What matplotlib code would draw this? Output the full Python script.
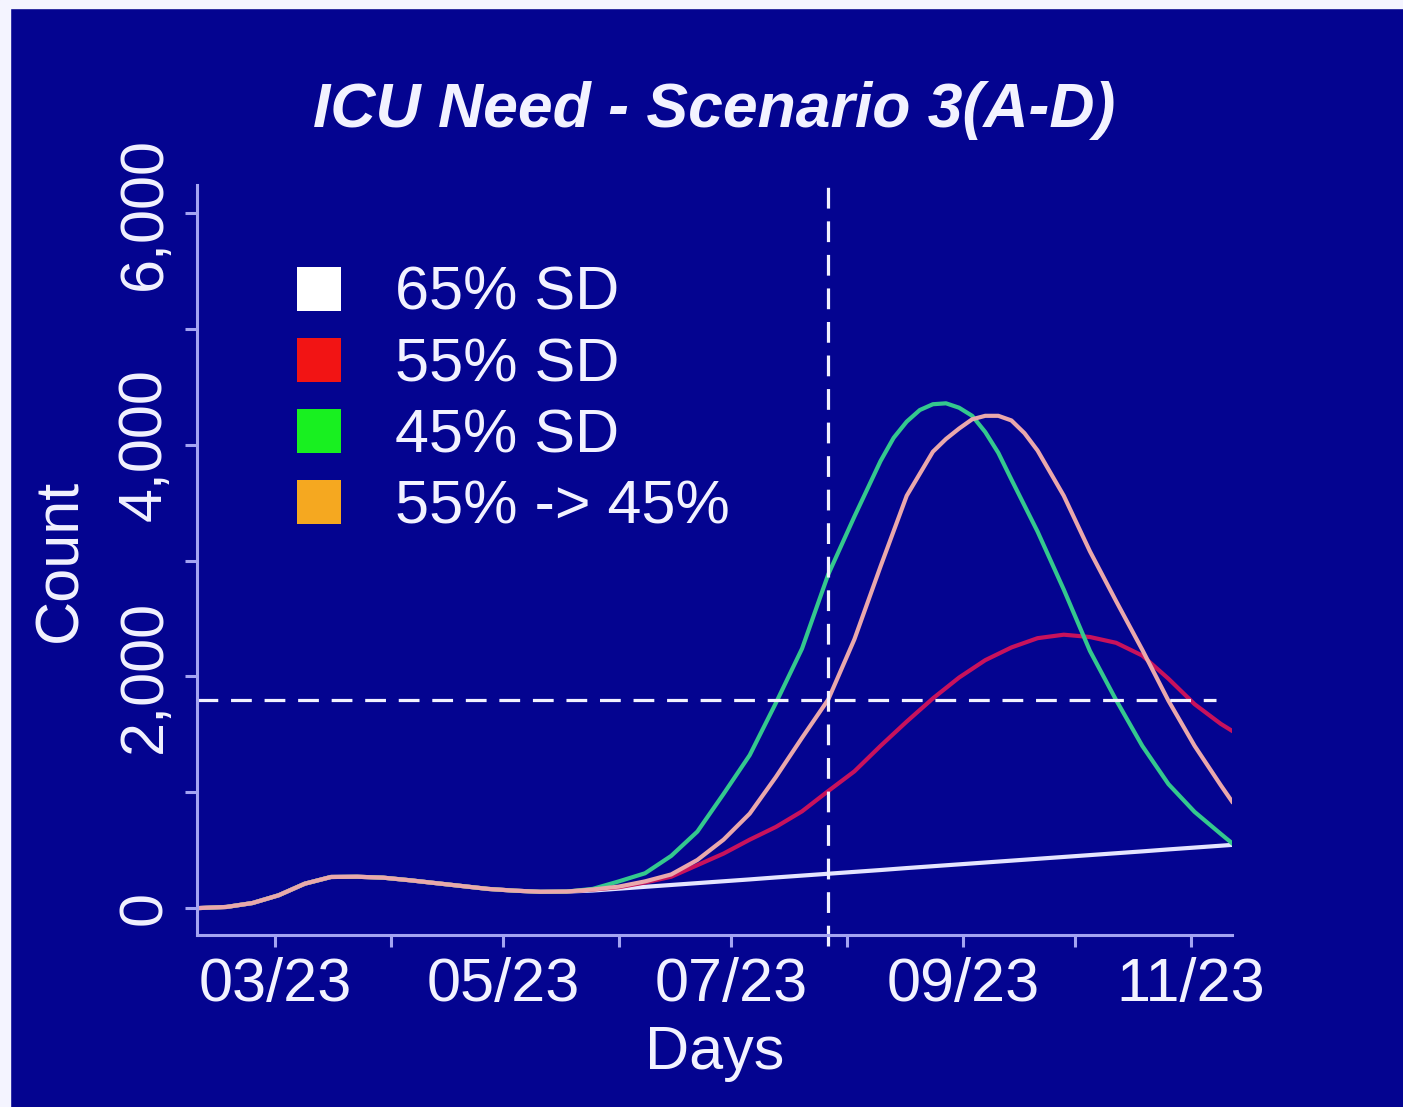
import numpy as np
import pandas as pd
import matplotlib
matplotlib.use('Agg')
import matplotlib.pyplot as plt
import matplotlib.dates as mdates
from matplotlib.lines import Line2D
from matplotlib.patches import Rectangle

plt.rcParams['font.family'] = ['Liberation Sans', 'DejaVu Sans']

# weekly points, last one is the end of the run
dates = pd.date_range('2020-03-03', '2020-12-01', freq='7D').append(pd.DatetimeIndex(['2020-12-04']))

# all scenarios are the same until mid June
shared = [0, 9, 43, 110, 210, 268, 270, 262, 240, 215, 190, 165, 150, 140, 142]

sd65 = shared + [151, 167, 183, 199, 215, 231, 247, 264, 280, 296, 312, 328, 345,
                 361, 377, 393, 409, 425, 441, 457, 473, 489, 506, 522, 538, 545]
sd55 = shared + [160, 180, 220, 270, 370, 470, 590, 700, 835, 1010, 1180, 1400, 1610,
                 1810, 1990, 2140, 2250, 2330, 2360, 2340, 2290, 2180, 1980, 1760, 1590, 1530]
sd45 = shared + [165, 230, 300, 450, 660, 985, 1320, 1770, 2240, 2880, 3380, 3860, 4200,
                 4350, 4320, 4110, 3700, 3250, 2750, 2220, 1796, 1400, 1070, 830, 640, 560]
sd55_45 = shared + [160, 185, 230, 290, 415, 590, 815, 1131, 1470, 1800, 2320, 2950, 3560,
                    3940, 4140, 4250, 4210, 3950, 3560, 3080, 2650, 2230, 1790, 1400, 1060, 920]

# extra mid-week readings around the two tall peaks
sd45_mid_dates = pd.DatetimeIndex(['2020-09-04 12:00', '2020-09-11 12:00', '2020-09-18 12:00',
                                   '2020-09-25 12:00', '2020-10-02 12:00'])
sd45_mid = [4060, 4300, 4358, 4250, 3930]
sd55_45_mid_dates = pd.DatetimeIndex(['2020-09-18 12:00', '2020-09-25 12:00', '2020-10-02 12:00',
                                      '2020-10-09 12:00'])
sd55_45_mid = [4050, 4220, 4250, 4100]

labels = ['65% SD', '55% SD', '45% SD', '55% -> 45%']
key_colors = ['#ffffff', '#f21414', '#18f020', '#f5a820']
line_colors = ['#e4e4ff', '#c8125c', '#34c88e', '#eaa8ac']

capacity = 1800
today = pd.Timestamp('2020-08-18')

bg = '#040490'
fg = '#f2f2ff'
axcol = '#a4a4f2'

s45 = pd.concat([pd.Series(sd45, index=dates), pd.Series(sd45_mid, index=sd45_mid_dates)]).sort_index()
s5545 = pd.concat([pd.Series(sd55_45, index=dates), pd.Series(sd55_45_mid, index=sd55_45_mid_dates)]).sort_index()

fig = plt.figure(figsize=(14.03, 11.07), dpi=100, facecolor=bg)
fig.patches.append(Rectangle((0, 0), 10 / 1403, 1, transform=fig.transFigure, color='#f4f4ff', zorder=0))
fig.patches.append(Rectangle((0, 1 - 8 / 1107), 1, 8 / 1107, transform=fig.transFigure, color='#f4f4ff', zorder=0))

ax = fig.add_axes([197 / 1403, 172 / 1107, 1035 / 1403, 750 / 1107])
ax.set_facecolor(bg)

ax.plot(dates, sd65, color=line_colors[0], lw=3)
ax.plot(dates, sd55, color=line_colors[1], lw=3)
ax.plot(s45.index, s45.values, color=line_colors[2], lw=3)
ax.plot(s5545.index, s5545.values, color=line_colors[3], lw=3)

ax.axhline(capacity, xmin=0, xmax=0.985, color=fg, lw=2.3, dashes=(6.5, 4))
ax.axvline(today, ymin=-0.015, ymax=1, color=fg, lw=2.3, dashes=(6.5, 4), clip_on=False)

ax.set_xlim(pd.Timestamp('2020-03-02 04:00'), pd.Timestamp('2020-12-04'))
ax.set_ylim(-233, 6243)

ax.xaxis.set_major_locator(mdates.MonthLocator(bymonth=[3, 5, 7, 9, 11], bymonthday=23))
ax.xaxis.set_minor_locator(mdates.MonthLocator(bymonth=[4, 6, 8, 10], bymonthday=23))
ax.xaxis.set_major_formatter(mdates.DateFormatter('%m/%d'))
ax.set_yticks([0, 2000, 4000, 6000])
ax.set_yticks([1000, 3000, 5000], minor=True)
ax.yaxis.set_major_formatter(matplotlib.ticker.StrMethodFormatter('{x:,.0f}'))

for s in ['top', 'right']:
    ax.spines[s].set_visible(False)
for s in ['left', 'bottom']:
    ax.spines[s].set_color(axcol)
    ax.spines[s].set_linewidth(2.2)

ax.tick_params(which='both', colors=axcol, length=8.6, width=2.2)
ax.tick_params(axis='x', which='major', labelsize=44, labelcolor=fg, pad=7)
ax.tick_params(axis='y', which='major', labelsize=44, labelcolor=fg, pad=8)
for t in ax.get_yticklabels():
    t.set_rotation(90)
    t.set_va('center')

ax.set_title('ICU Need - Scenario 3(A-D)', color=fg, fontsize=45, fontweight='bold', style='italic', pad=42)
ax.set_xlabel('Days', color=fg, fontsize=44, va='center')
ax.xaxis.set_label_coords(0.5, -0.158)
ax.set_ylabel('Count', color=fg, fontsize=44, va='center')
ax.yaxis.set_label_coords(-0.132, 0.5)

handles = [Line2D([], [], ls='none', marker='s', markersize=32, markerfacecolor=c, markeredgewidth=0)
           for c in key_colors]
ax.legend(handles, labels, loc='upper left', bbox_to_anchor=(0.088, 0.892), borderaxespad=0,
          borderpad=0, frameon=False, handlelength=1.0, handletextpad=0.75, labelspacing=0.23,
          fontsize=44, labelcolor=fg)

fig.savefig('out.png', dpi=100, facecolor=bg)
